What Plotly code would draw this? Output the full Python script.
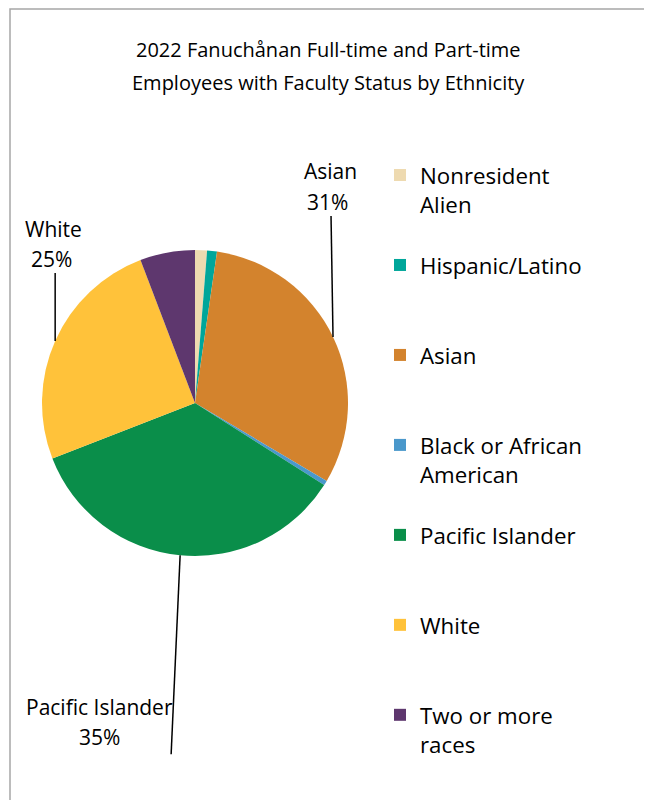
import math
import plotly.graph_objects as go

# ---------------- data ----------------
categories = ["Nonresident Alien", "Hispanic/Latino", "Asian",
              "Black or African American", "Pacific Islander", "White",
              "Two or more races"]
legend_labels = ["Nonresident<br>Alien", "Hispanic/Latino", "Asian",
                 "Black or African<br>American", "Pacific Islander", "White",
                 "Two or more<br>races"]
values = [1.26, 1.04, 31.2, 0.5, 35.1, 25.1, 5.8]
colors = ["#EEDAB0", "#00A69A", "#D3832D", "#4A98CB", "#0A8E4A", "#FFC23A", "#5E376E"]
labelled = ["Asian", "White", "Pacific Islander"]
title_lines = ["2022 Fanuchånan Full-time and Part-time",
               "Employees with Faculty Status by Ethnicity"]

# ---------------- layout constants (screen pixels) ----------------
W, H = 652, 800
OFF = 8            # page body margin compensation
CX, CY, R = 195, 403, 153
FONT = "Open Sans"

# label layout: leader end offset and text offsets relative to slice edge point
label_layout = {
    "Asian": dict(line=(-2, -121), name=(-3, -166), pct=(-6, -135)),
    "White": dict(line=(0, -68), name=(-2, -112), pct=(-4, -82)),
    "Pacific Islander": dict(line=(-9, 199), name=(-81, 152), pct=(-81, 182)),
}

def px(x):
    return (x - OFF) / W

def py(y):
    return 1 - (y - OFF) / H

# legend labels padded to equal height
n_lines = 3
padded = []
for lab in legend_labels:
    k = lab.count("<br>") + 1
    padded.append(lab + "<br> " * (n_lines - k))

fig = go.Figure(go.Pie(
    labels=padded,
    values=values,
    sort=False,
    direction="clockwise",
    rotation=0,
    marker=dict(colors=colors, line=dict(width=0)),
    textinfo="none",
    hoverinfo="skip",
    domain=dict(x=[px(CX - R), px(CX + R)], y=[py(CY + R), py(CY - R)]),
))

total = sum(values)
shapes = []
annotations = []
cum = 0.0
for cat, v in zip(categories, values):
    mid = (cum + v / 2) / total * 2 * math.pi
    cum += v
    if cat not in labelled:
        continue
    ex = CX + R * math.sin(mid)
    ey = CY - R * math.cos(mid)
    lay = label_layout[cat]
    lx, ly = ex + lay["line"][0], ey + lay["line"][1]
    shapes.append(dict(type="line", xref="paper", yref="paper",
                       x0=px(ex), y0=py(ey), x1=px(lx), y1=py(ly),
                       line=dict(color="#000000", width=1.5)))
    pct = round(v / total * 100)
    nx, ny = ex + lay["name"][0], ey + lay["name"][1]
    qx, qy = ex + lay["pct"][0], ey + lay["pct"][1]
    annotations.append(dict(text=cat, x=px(nx), y=py(ny), xref="paper", yref="paper",
                            showarrow=False, xanchor="center", yanchor="middle",
                            font=dict(family=FONT, size=21, color="#000")))
    annotations.append(dict(text=f"{pct}%", x=px(qx), y=py(qy), xref="paper", yref="paper",
                            showarrow=False, xanchor="center", yanchor="middle",
                            font=dict(family=FONT, size=21, color="#000")))

for i, t in enumerate(title_lines):
    annotations.append(dict(text=t, x=px(328), y=py(50 + 32 * i), xref="paper", yref="paper",
                            showarrow=False, xanchor="center", yanchor="middle",
                            font=dict(family=FONT, size=20, color="#000")))

# chart border
shapes.append(dict(type="rect", xref="paper", yref="paper",
                   x0=px(10), x1=px(646), y0=py(820), y1=py(9),
                   line=dict(color="#A6A6A6", width=1.5)))

fig.update_layout(
    width=W, height=H,
    margin=dict(l=0, r=0, t=0, b=0, autoexpand=False),
    paper_bgcolor="white",
    plot_bgcolor="white",
    showlegend=True,
    legend=dict(x=px(380), y=py(154), xanchor="left", yanchor="top",
                valign="top", font=dict(family=FONT, size=22.3, color="#000"),
                bgcolor="rgba(0,0,0,0)", traceorder="normal"),
    shapes=shapes,
    annotations=annotations,
)

fig.write_html("out.html")
